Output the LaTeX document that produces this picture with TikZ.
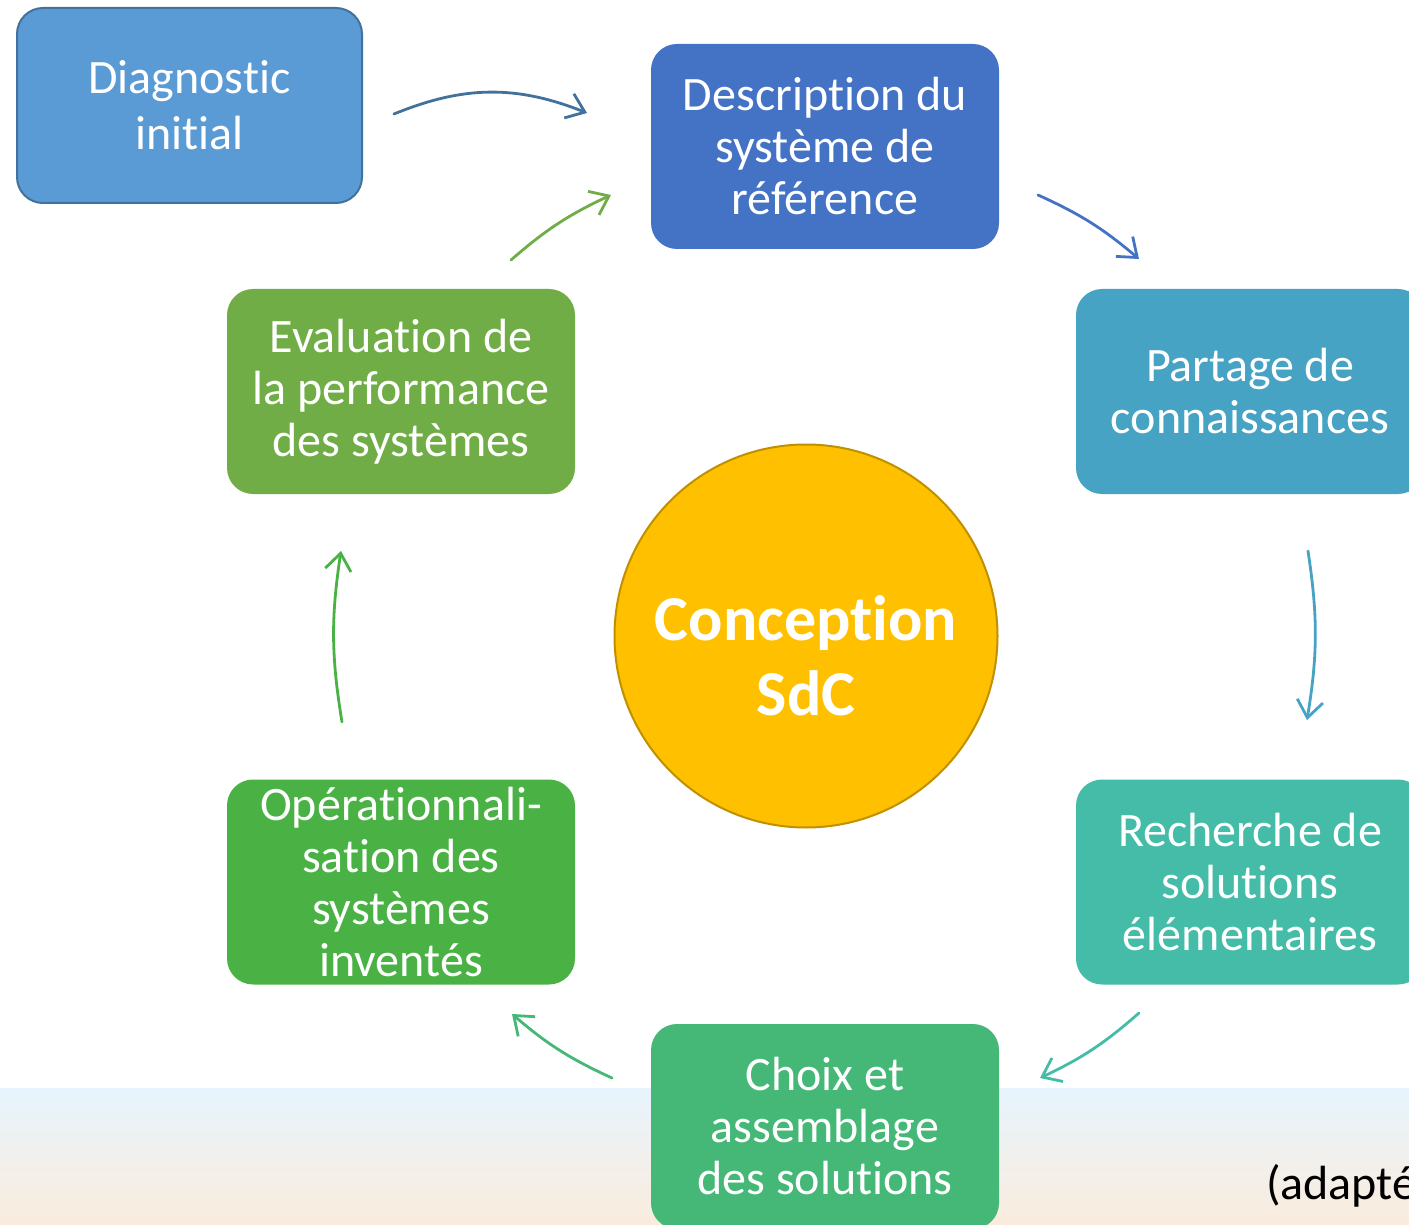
\documentclass[tikz,border=0pt]{standalone}
\usepackage{fontspec}
\setmainfont{Carlito}[Ligatures=NoCommon]
\usetikzlibrary{arrows.meta}

\definecolor{diagfill}{HTML}{5B9BD5}
\definecolor{diagline}{HTML}{41719C}
\definecolor{descfill}{HTML}{4472C4}
\definecolor{partfill}{HTML}{46A3C4}
\definecolor{rechfill}{HTML}{45BCA8}
\definecolor{choixfill}{HTML}{45B877}
\definecolor{operfill}{HTML}{4AB245}
\definecolor{evalfill}{HTML}{70AD47}
\definecolor{corefill}{HTML}{FFC000}
\definecolor{coreline}{HTML}{BF9000}
\definecolor{bandtop}{HTML}{E7F4FD}
\definecolor{bandmid}{HTML}{F7F7F5}
\definecolor{bandbot}{HTML}{FAECDD}

\begin{document}
\begin{tikzpicture}[x=0.5pt, y=-0.5pt]
        \tikzstyle{phase}=[rounded corners=13pt, minimum width=174pt, minimum height=102.5pt, inner sep=0pt, align=center, text=white, font=\fontsize{24}{26}\selectfont]
        \tikzstyle{core}=[circle, draw=coreline, line width=1pt, fill=corefill, minimum size=191.5pt, inner sep=0pt, align=center, text=white, font=\fontsize{32}{37.5}\selectfont\bfseries]
        \tikzstyle{transition}=[-{Straight Barb[length=8.5pt, width=13pt]}, line width=1.4pt, line cap=round]
        \useasboundingbox (0,0) rectangle (1409,1225);
        \clip (0,0) rectangle (1409,1225);
        % bande du bas
        \shade[top color=bandtop, middle color=bandmid, bottom color=bandbot] (0,1088) rectangle (1409,1225);

        \node[phase, fill=diagfill, draw=diagline, line width=1pt, minimum width=172.5pt, minimum height=97.5pt, font=\fontsize{24}{28}\selectfont] (diag) at (189.5, 105.5) {Diagnostic\\initial};
        \node[phase, fill=descfill] (desc) at (825, 146.5) {Description du\\système de\\référence};
        \node[phase, fill=partfill] (partage) at (1250, 391.5) {Partage de\\connaissances};
        \node[phase, fill=rechfill] (recherche) at (1250, 882) {Recherche de\\solutions\\élémentaires};
        \node[phase, fill=choixfill] (choix) at (825, 1126.5) {Choix et\\assemblage\\des solutions};
        \node[phase, fill=operfill] (oper) at (401, 882) {Opérationnali-\\sation des\\systèmes\\inventés};
        \node[phase, fill=evalfill] (eval) at (401, 391.5) {Evaluation de\\la performance\\des systèmes};
        \node[core] (sdc) at (806, 636) {\rule{0pt}{42pt}Conception\\SdC};
        \node[anchor=base west, font=\fontsize{24}{26}\selectfont] (source) at (1259, 1199) {(adapté};

        % bouts des fleches
        \coordinate (diag-out) at (394, 114);
        \coordinate (desc-in) at (587, 113);
        \coordinate (desc-out) at (1038, 195);
        \coordinate (partage-in) at (1139, 259);
        \coordinate (partage-out) at (1308, 551);
        \coordinate (recherche-in) at (1307, 720);
        \coordinate (recherche-out) at (1139, 1013);
        \coordinate (choix-in) at (1040, 1078);
        \coordinate (choix-out) at (612, 1078);
        \coordinate (oper-in) at (512, 1014);
        \coordinate (oper-out) at (342, 722);
        \coordinate (eval-in) at (341, 551);
        \coordinate (eval-out) at (511, 260);
        \coordinate (desc-in2) at (611, 195);

        \draw[transition, diagline] (diag-out) to[bend left=22] (desc-in);
        \draw[transition, descfill] (desc-out) to[bend left=8] (partage-in);
        \draw[transition, partfill] (partage-out) to[bend left=9] (recherche-in);
        \draw[transition, rechfill] (recherche-out) to[bend left=8] (choix-in);
        \draw[transition, choixfill] (choix-out) to[bend left=8] (oper-in);
        \draw[transition, operfill] (oper-out) to[bend left=9] (eval-in);
        \draw[transition, evalfill] (eval-out) to[bend left=8] (desc-in2);

    \end{tikzpicture}
\end{document}
